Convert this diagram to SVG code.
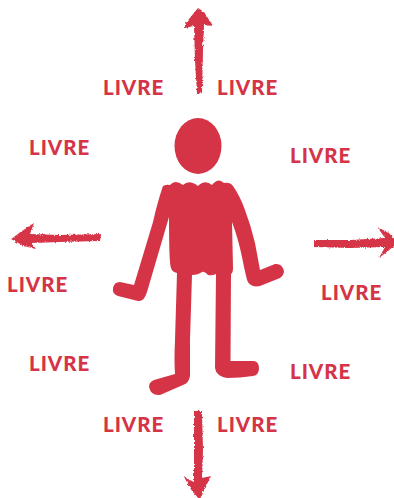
<svg xmlns="http://www.w3.org/2000/svg" width="394" height="498" viewBox="0 0 394 498">
<style>
.c{fill:#d53447}
.t{font-family:Lato,"Liberation Sans",sans-serif;font-weight:900;font-size:20.5px;fill:#d53447;letter-spacing:.95px}
</style>
<defs>
<filter id="rough" x="-30%" y="-30%" width="160%" height="160%">
<feTurbulence type="fractalNoise" baseFrequency="0.45" numOctaves="2" seed="4"/>
<feDisplacementMap in="SourceGraphic" scale="3" xChannelSelector="R" yChannelSelector="G"/>
</filter>
</defs>
<g id="figure" class="c">
<ellipse id="head" cx="198" cy="146" rx="23.5" ry="28"/>
<path id="body" d="M163 186 Q167 184 170 185 Q175 179 183 185 Q189 179 198 186 Q205 179 212 185 Q218 177 224 183 Q230 182 233 186 Q240 196 245 210 Q251 226 255 243 L260 270 L275 264 Q282 263 284 271 Q284 275 280 278 L260 286 Q250 288 247 280 Q244 268 242 257 Q238 238 232 222 L233 268 Q233 273 231 274 L230.500 361 L254 361 Q259 362 259 368 Q259 375 253 376 Q240 378 227 378 Q216 376 215 368 L216 274 Q212 276 208 275 Q204 271 202 272 Q198 275 192 275 L190 340 L190 376 Q189 383 183 385 L160 395 Q151 396 149 387 Q149 382 154 380 L175 374 Q174 360 175 340 L177 273 Q172 272 171 268 Q169 264 169 217 L147 292 Q144 302 138 301 L118 296 Q112 294 113 288 Q114 282 120 282 L134 285 L153 222 Q158 200 163 186Z"/>
</g>
<g id="connectors" class="c">
<path id="arrow-up" filter="url(#rough)" d="M197 94 L195 60 L194 26 L185 28 L185 24 L198 8 L204 12 L213 26 L204 25 L203 50 L202 93Z"/>
<path id="arrow-down" filter="url(#rough)" d="M194 411 L202 411 L203 450 L202 478 L211 476 L205 488 L200 500 L192 491 L184 477 L194 482 L194 450Z"/>
<path id="arrow-left" filter="url(#rough)" d="M101 234 L60 235 L30 234 L34 223 L22 231 L11 239 L24 246 L36 249 L31 243 L60 242 L100 241Z"/>
<path id="arrow-right" filter="url(#rough)" d="M314 240 L350 240 L385 238 L378 228 L388 232 L398 243 L388 251 L379 258 L385 247 L350 248 L314 247Z"/>
</g>
<g id="labels">
<text class="t" x="103" y="95">LIVRE</text>
<text class="t" x="217" y="95">LIVRE</text>
<text class="t" x="29" y="155">LIVRE</text>
<text class="t" x="290" y="163">LIVRE</text>
<text class="t" x="7" y="292">LIVRE</text>
<text class="t" x="321" y="300">LIVRE</text>
<text class="t" x="29" y="371">LIVRE</text>
<text class="t" x="290" y="379">LIVRE</text>
<text class="t" x="103" y="432">LIVRE</text>
<text class="t" x="217" y="432">LIVRE</text>
</g>
</svg>
